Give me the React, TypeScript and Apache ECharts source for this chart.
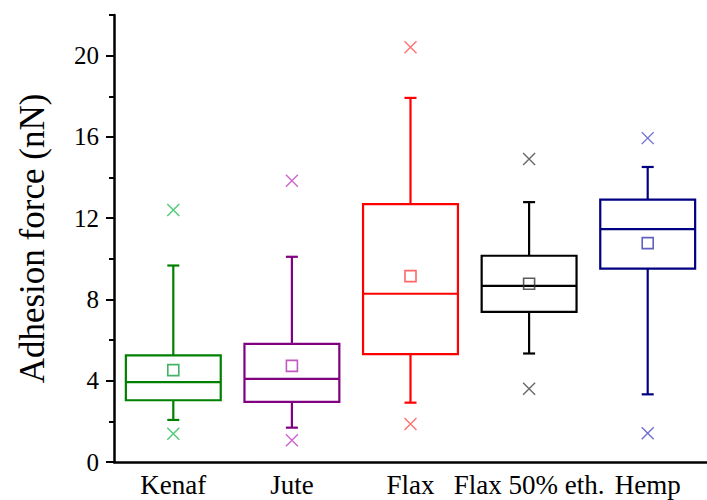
import React, { useEffect, useRef } from "react";
import * as echarts from "echarts";

const categories = ["Kenaf", "Jute", "Flax", "Flax 50% eth.", "Hemp"];
const whiskerLow = [2.07, 1.69, 2.92, 5.34, 3.33];
const q1 = [3.04, 2.96, 5.31, 7.39, 9.52];
const median = [3.93, 4.09, 8.28, 8.67, 11.46];
const q3 = [5.25, 5.81, 12.69, 10.15, 12.91];
const whiskerHigh = [9.67, 10.1, 17.92, 12.79, 14.52];
const means = [4.52, 4.73, 9.15, 8.77, 10.77];
const outlierLow = [1.39, 1.07, 1.87, 3.6, 1.41];
const outlierHigh = [12.4, 13.84, 20.41, 14.91, 15.94];
const majorTicks = [0, 4, 8, 12, 16, 20];
const minorTicks = [2, 6, 10, 14, 18, 22];

const boxColors = ["#008000", "#800080", "#ff0000", "#000000", "#000080"];
const meanColors = ["#14a040", "#b030b0", "#ff4040", "#333333", "#3a3ab0"];
const outlierColors = ["#22bb55", "#c040c0", "#ff4d4d", "#444444", "#4a4ac8"];

const FONT = "Liberation Serif";

export default function App() {
  const ref = useRef<HTMLDivElement>(null);
  useEffect(() => {
    if (!ref.current) return;
    const chart = echarts.init(ref.current, undefined, { renderer: "svg" });
    const boxData = categories.map((_, i) => [i, whiskerLow[i], q1[i], median[i], q3[i], whiskerHigh[i]]);
    const meanData = categories.map((_, i) => ({
      value: [i, means[i]],
      itemStyle: { color: "rgba(255,255,255,0)", borderColor: meanColors[i], borderWidth: 1.6 },
    }));
    const outlierData: any[] = [];
    categories.forEach((_, i) => {
      [outlierLow[i], outlierHigh[i]].forEach((v) =>
        outlierData.push({
          value: [i, v],
          itemStyle: { color: "none", borderColor: outlierColors[i], borderWidth: 1.4 },
        })
      );
    });
    chart.setOption({
      animation: false,
      textStyle: { fontFamily: FONT },
      grid: { left: 114, right: -7, top: 15, bottom: 38 },
      xAxis: {
        type: "category",
        data: categories,
        boundaryGap: true,
        axisLine: { lineStyle: { color: "#000", width: 2.5 } },
        axisTick: { alignWithLabel: true, length: 8, lineStyle: { color: "#000", width: 2 } },
        axisLabel: { color: "#000", fontSize: 27, fontFamily: FONT, margin: 9, interval: 0 },
        splitLine: { show: false },
      },
      yAxis: [
        {
          type: "value",
          min: 0,
          max: 22,
          name: "Adhesion force (nN)",
          nameLocation: "middle",
          nameRotate: 90,
          nameGap: 64,
          nameTextStyle: { color: "#000", fontSize: 35, fontFamily: FONT },
          axisLine: { show: true, lineStyle: { color: "#000", width: 2.5 } },
          axisTick: { show: true, length: 8, customValues: majorTicks, lineStyle: { color: "#000", width: 2 } },
          axisLabel: { color: "#000", fontSize: 25, fontFamily: FONT, margin: 15, customValues: majorTicks },
          splitLine: { show: false },
        },
        {
          type: "value",
          min: 0,
          max: 22,
          position: "left",
          axisLine: { show: false },
          axisTick: { show: true, length: 5, customValues: minorTicks, lineStyle: { color: "#000", width: 2 } },
          axisLabel: { show: false },
          splitLine: { show: false },
        },
      ],
      series: [
        {
          type: "custom",
          data: boxData,
          encode: { x: 0, y: [1, 2, 3, 4, 5] },
          renderItem: (params: any, api: any) => {
            const idx = api.value(0);
            const color = boxColors[params.dataIndex];
            const bw = api.size([1, 0])[0] * 0.8;
            const cap = 12;
            const pLo = api.coord([idx, api.value(1)]);
            const pQ1 = api.coord([idx, api.value(2)]);
            const pMed = api.coord([idx, api.value(3)]);
            const pQ3 = api.coord([idx, api.value(4)]);
            const pHi = api.coord([idx, api.value(5)]);
            const cx = pMed[0];
            const style = { stroke: color, lineWidth: 2.2, fill: "none" };
            return {
              type: "group",
              children: [
                { type: "line", shape: { x1: cx, y1: pHi[1], x2: cx, y2: pQ3[1] }, style },
                { type: "line", shape: { x1: cx - cap / 2, y1: pHi[1], x2: cx + cap / 2, y2: pHi[1] }, style },
                { type: "line", shape: { x1: cx, y1: pQ1[1], x2: cx, y2: pLo[1] }, style },
                { type: "line", shape: { x1: cx - cap / 2, y1: pLo[1], x2: cx + cap / 2, y2: pLo[1] }, style },
                {
                  type: "rect",
                  shape: { x: cx - bw / 2, y: pQ3[1], width: bw, height: pQ1[1] - pQ3[1] },
                  style,
                },
                { type: "line", shape: { x1: cx - bw / 2, y1: pMed[1], x2: cx + bw / 2, y2: pMed[1] }, style },
              ],
            };
          },
          z: 2,
        },
        {
          type: "scatter",
          data: meanData,
          symbol: "rect",
          symbolSize: 11,
          z: 3,
        },
        {
          type: "scatter",
          data: outlierData,
          symbol: "path://M0,0L10,10M0,10L10,0",
          symbolSize: 12,
          z: 3,
        },
      ],
    });
    return () => chart.dispose();
  }, []);
  return <div ref={ref} style={{ width: 707, height: 500, position: "absolute", left: 0, top: 0 }} />;
}
